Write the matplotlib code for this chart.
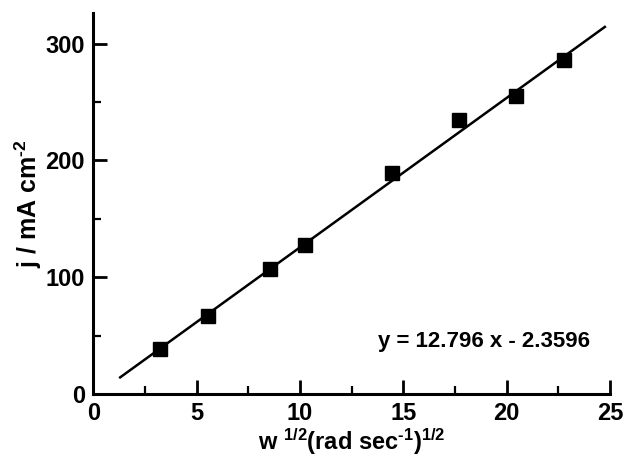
import matplotlib
matplotlib.use("Agg")
import matplotlib.pyplot as plt
import numpy as np
from matplotlib.ticker import MultipleLocator

# rotation rate^1/2 and limiting current density
w_sqrt = [3.23, 5.56, 8.55, 10.24, 14.44, 17.7, 20.45, 22.77]
j_vals = [38.5, 66.8, 107, 127.6, 189, 235, 255, 286]

# linear fit as printed on the plot
slope = 12.796
intercept = -2.3596
fit_x = [1.25, 24.8]

plt.rcParams['font.family'] = ['Liberation Sans', 'DejaVu Sans']
plt.rcParams['font.weight'] = 'bold'
plt.rcParams['mathtext.fontset'] = 'custom'
plt.rcParams['mathtext.rm'] = 'Liberation Sans:bold'
plt.rcParams['mathtext.it'] = 'Liberation Sans:bold'
plt.rcParams['mathtext.bf'] = 'Liberation Sans:bold'
plt.rcParams['mathtext.default'] = 'rm'

fig = plt.figure(figsize=(6.23, 4.61), dpi=100)
ax = fig.add_axes([0.1498, 0.1453, 0.8293, 0.8258])

fx = np.array(fit_x)
ax.plot(fx, slope * fx + intercept, color='black', lw=1.8, solid_capstyle='butt')
ax.plot(w_sqrt, j_vals, 's', color='black', ms=10, mec='black')

ax.set_xlim(0, 25)
ax.set_ylim(0, 326)
ax.xaxis.set_major_locator(MultipleLocator(5))
ax.xaxis.set_minor_locator(MultipleLocator(2.5))
ax.yaxis.set_major_locator(MultipleLocator(100))
ax.yaxis.set_minor_locator(MultipleLocator(50))

for s in ['top', 'right']:
    ax.spines[s].set_visible(False)
for s in ['left', 'bottom']:
    ax.spines[s].set_linewidth(2.2)

ax.tick_params(which='major', direction='in', length=10, width=2, labelsize=17, pad=6)
ax.tick_params(which='minor', direction='in', length=6, width=1.6)
for lab in ax.get_xticklabels() + ax.get_yticklabels():
    lab.set_fontweight('bold')

ax.set_xlabel('w $^{1/2}$(rad sec$^{\u20101}$)$^{1/2}$', fontsize=17, fontweight='bold', labelpad=1)
ax.set_ylabel('j / mA cm$^{\u20102}$', fontsize=18, fontweight='bold', labelpad=1)

ax.text(0.961, 0.137, 'y = 12.796 x - 2.3596', transform=ax.transAxes,
        ha='right', va='center', fontsize=16, fontweight='bold')

fig.savefig('out.png', dpi=100)
